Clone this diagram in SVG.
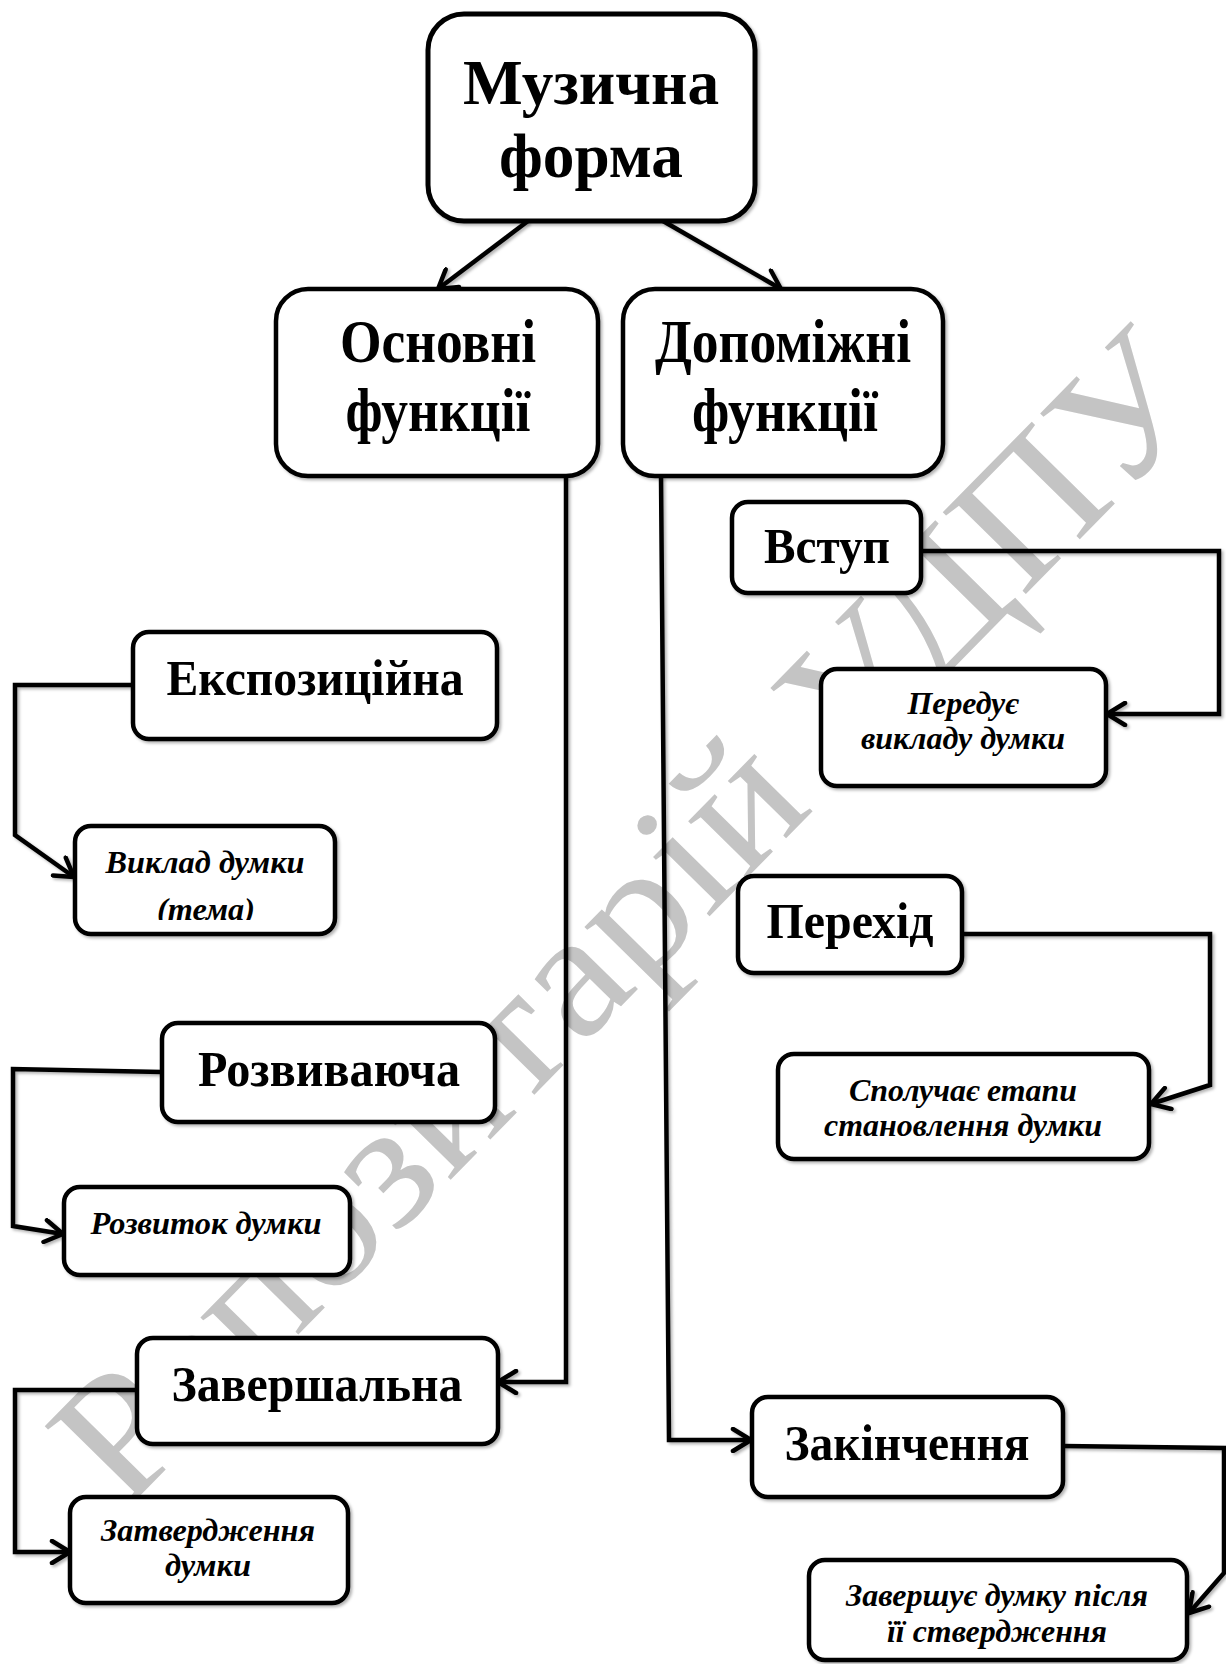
<svg xmlns="http://www.w3.org/2000/svg" width="1226" height="1664" viewBox="0 0 1226 1664">
<defs>
<style>
.box{fill:#fff;stroke:#000;stroke-width:4.5;filter:url(#sh)}
.ln{fill:none;stroke:#000;stroke-width:4.5;stroke-linejoin:miter;filter:url(#sh)}
.arr{marker-end:url(#ah)}
.t{font-family:"Liberation Serif","Times New Roman",serif;font-weight:bold;fill:#000}
.big{font-size:62px}
.mid{font-size:50px}
.it{font-family:"Liberation Serif","Times New Roman",serif;font-weight:bold;font-style:italic;font-size:31px;fill:#000}
.wm{font-family:"Liberation Serif","Times New Roman",serif;font-size:178px;fill:#c4c4c4}
</style>
<filter id="sh" x="-10%" y="-10%" width="130%" height="130%">
<feDropShadow dx="2" dy="2" stdDeviation="1.5" flood-color="#000" flood-opacity="0.3"/>
</filter>
<marker id="ah" viewBox="0 0 26 26" refX="22" refY="13" markerWidth="26" markerHeight="26" markerUnits="userSpaceOnUse" orient="auto">
<path d="M4,2 L22,13 L4,24" fill="none" stroke="#000" stroke-width="4.5" stroke-linecap="round" stroke-linejoin="round"/>
</marker>
<clipPath id="clipTema"><rect x="75" y="826" width="260" height="94"/></clipPath>
</defs>

<g id="watermark">
<text class="wm" transform="translate(124,1512) rotate(-45.5)" x="0" y="0" textLength="1555" lengthAdjust="spacingAndGlyphs">Репозитарій УДПУ</text>
</g>

<g id="connectors">
<line class="ln arr" x1="528" y1="221" x2="438" y2="289"/>
<line class="ln arr" x1="663" y1="221" x2="781" y2="289"/>
<polyline class="ln arr" points="566,476 566,1382 498,1382"/>
<line class="ln arr" x1="566" y1="685" x2="498" y2="685"/>
<line class="ln arr" x1="566" y1="1065" x2="496" y2="1065"/>
<polyline class="ln arr" points="133,685 15,685 15,835 74,877"/>
<polyline class="ln arr" points="162,1072 13,1069 13,1226 63,1234"/>
<polyline class="ln arr" points="137,1390 15,1390 15,1552 70,1552"/>
<polyline class="ln arr" points="661,476 669,1440 751,1440"/>
<line class="ln arr" x1="663" y1="549" x2="731" y2="549"/>
<line class="ln arr" x1="672" y1="929" x2="737" y2="929"/>
<polyline class="ln arr" points="921,551 1219,551 1219,714 1107,714"/>
<polyline class="ln arr" points="962,934 1210,934 1210,1085 1151,1104"/>
<polyline class="ln arr" points="1063,1446 1224,1448 1224,1573 1189,1613"/>
</g>

<g id="node-muzychna-forma">
<rect class="box" x="428" y="14" width="327" height="207" rx="36" ry="36" style="stroke-width:5"/>
<text class="t" x="591" y="104" text-anchor="middle" style="font-size:64px" textLength="256" lengthAdjust="spacingAndGlyphs">Музична</text>
<text class="t" x="591" y="177" text-anchor="middle" style="font-size:64px" textLength="184" lengthAdjust="spacingAndGlyphs">форма</text>
</g>

<g id="node-osnovni">
<rect class="box" x="276" y="289" width="322" height="187" rx="32" ry="32"/>
<text class="t big" x="438" y="362" text-anchor="middle" textLength="196" lengthAdjust="spacingAndGlyphs">Основні</text>
<text class="t big" x="438" y="431" text-anchor="middle" textLength="185" lengthAdjust="spacingAndGlyphs">функції</text>
</g>

<g id="node-dopomizhni">
<rect class="box" x="623" y="289" width="320" height="187" rx="32" ry="32"/>
<text class="t big" x="783" y="362" text-anchor="middle" textLength="256" lengthAdjust="spacingAndGlyphs">Допоміжні</text>
<text class="t big" x="785" y="431" text-anchor="middle" textLength="186" lengthAdjust="spacingAndGlyphs">функції</text>
</g>

<g id="node-ekspozytsiina">
<rect class="box" x="133" y="632" width="364" height="107" rx="16" ry="16"/>
<text class="t mid" x="315" y="695" text-anchor="middle" textLength="297" lengthAdjust="spacingAndGlyphs">Експозиційна</text>
</g>

<g id="node-vyklad">
<rect class="box" x="75" y="826" width="260" height="108" rx="16" ry="16"/>
<text class="it" x="205" y="873" text-anchor="middle" textLength="199" lengthAdjust="spacingAndGlyphs">Виклад думки</text>
<text class="it" x="206" y="920" text-anchor="middle" textLength="98" lengthAdjust="spacingAndGlyphs" clip-path="url(#clipTema)">(тема)</text>
</g>

<g id="node-rozvyvaiucha">
<rect class="box" x="162" y="1023" width="333" height="99" rx="16" ry="16"/>
<text class="t mid" x="329" y="1086" text-anchor="middle" textLength="262" lengthAdjust="spacingAndGlyphs">Розвиваюча</text>
</g>

<g id="node-rozvytok">
<rect class="box" x="64" y="1187" width="286" height="88" rx="16" ry="16"/>
<text class="it" x="206" y="1234" text-anchor="middle" textLength="231" lengthAdjust="spacingAndGlyphs">Розвиток думки</text>
</g>

<g id="node-zavershalna">
<rect class="box" x="137" y="1338" width="361" height="106" rx="16" ry="16"/>
<text class="t mid" x="317" y="1401" text-anchor="middle" textLength="291" lengthAdjust="spacingAndGlyphs">Завершальна</text>
</g>

<g id="node-zatverdzhennia">
<rect class="box" x="70" y="1497" width="278" height="106" rx="16" ry="16"/>
<text class="it" x="208" y="1541" text-anchor="middle" textLength="214" lengthAdjust="spacingAndGlyphs">Затвердження</text>
<text class="it" x="208" y="1576" text-anchor="middle" textLength="86" lengthAdjust="spacingAndGlyphs">думки</text>
</g>

<g id="node-vstup">
<rect class="box" x="732" y="502" width="189" height="91" rx="16" ry="16"/>
<text class="t mid" x="827" y="563" text-anchor="middle" textLength="126" lengthAdjust="spacingAndGlyphs">Вступ</text>
</g>

<g id="node-peredue">
<rect class="box" x="821" y="669" width="285" height="117" rx="16" ry="16"/>
<text class="it" x="963" y="714" text-anchor="middle" textLength="111" lengthAdjust="spacingAndGlyphs">Передує</text>
<text class="it" x="963" y="749" text-anchor="middle" textLength="204" lengthAdjust="spacingAndGlyphs">викладу думки</text>
</g>

<g id="node-perekhid">
<rect class="box" x="738" y="876" width="224" height="97" rx="16" ry="16"/>
<text class="t mid" x="850" y="938" text-anchor="middle" textLength="167" lengthAdjust="spacingAndGlyphs">Перехід</text>
</g>

<g id="node-spoluchaie">
<rect class="box" x="778" y="1054" width="371" height="105" rx="16" ry="16"/>
<text class="it" x="963" y="1101" text-anchor="middle" textLength="228" lengthAdjust="spacingAndGlyphs">Сполучає етапи</text>
<text class="it" x="963" y="1136" text-anchor="middle" textLength="278" lengthAdjust="spacingAndGlyphs">становлення думки</text>
</g>

<g id="node-zakinchennia">
<rect class="box" x="752" y="1397" width="311" height="100" rx="16" ry="16"/>
<text class="t mid" x="907" y="1460" text-anchor="middle" textLength="245" lengthAdjust="spacingAndGlyphs">Закінчення</text>
</g>

<g id="node-zavershuie">
<rect class="box" x="809" y="1560" width="378" height="100" rx="16" ry="16"/>
<text class="it" x="997" y="1606" text-anchor="middle" textLength="302" lengthAdjust="spacingAndGlyphs">Завершує думку після</text>
<text class="it" x="997" y="1642" text-anchor="middle" textLength="220" lengthAdjust="spacingAndGlyphs">її ствердження</text>
</g>
</svg>
